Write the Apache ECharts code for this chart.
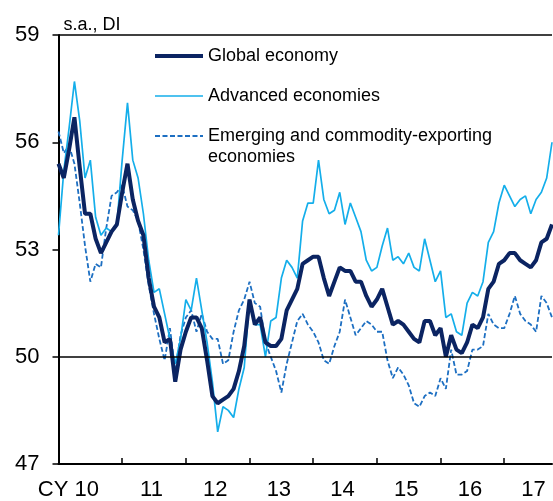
<!DOCTYPE html>
<html>
<head>
<meta charset="utf-8">
<script src="https://cdn.jsdelivr.net/npm/echarts@6/dist/echarts.min.js"></script>
<style>
html, body { margin: 0; padding: 0; background: #fff; }
#main { width: 553px; height: 501px; }
</style>
</head>
<body>
<div id="main"></div>
<script>
// monthly categories, Jan 2010 .. Oct 2017
var months = [];
for (var y = 2010; y <= 2017; y++) {
    for (var m = 1; m <= 12; m++) {
        months.push(y + '-' + (m < 10 ? '0' + m : m));
    }
}
months = months.slice(0, 94);

var yearLabels = ['CY 10', '11', '12', '13', '14', '15', '16', '17'];

var globalEconomy = [
    55.4, 55.0, 55.8, 56.7, 55.3, 54.0, 54.0, 53.3, 52.9, 53.2, 53.5, 53.7,
    54.6, 55.4, 54.4, 53.8, 53.4, 52.2, 51.4, 51.1, 50.4, 50.5, 49.3, 50.2,
    50.7, 51.1, 51.1, 50.8, 49.9, 48.9, 48.7, 48.8, 48.9, 49.1, 49.6, 50.3,
    51.6, 50.9, 51.1, 50.4, 50.3, 50.3, 50.5, 51.3, 51.6, 51.9, 52.6, 52.7,
    52.8, 52.8, 52.2, 51.7, 52.1, 52.5, 52.4, 52.4, 52.1, 52.1, 51.7, 51.4,
    51.6, 51.9, 51.4, 50.9, 51.0, 50.9, 50.7, 50.5, 50.4, 51.0, 51.0, 50.6,
    50.8, 50.0, 50.6, 50.2, 50.1, 50.4, 50.9, 50.8, 51.1, 51.9, 52.1, 52.6,
    52.7, 52.9, 52.9, 52.7, 52.6, 52.5, 52.7, 53.2, 53.3, 53.7
];

var advancedEconomies = [
    53.4, 55.2, 56.4, 57.7, 56.6, 55.0, 55.5, 53.9, 53.4, 53.6, 53.5, 53.7,
    55.5, 57.1, 55.5, 55.0, 54.0, 52.7, 51.8, 51.9, 51.2, 50.5, 49.8, 50.5,
    51.6, 51.3, 52.2, 51.3, 50.4, 49.3, 47.9, 48.6, 48.5, 48.3, 49.1, 49.7,
    51.6, 50.9, 50.9, 50.0, 51.0, 51.1, 52.2, 52.7, 52.5, 52.2, 53.8, 54.3,
    54.3, 55.5, 54.4, 54.0, 54.1, 54.6, 53.7, 54.3, 53.9, 53.5, 52.7, 52.4,
    52.5, 53.1, 53.6, 52.7, 52.8, 52.6, 52.9, 52.5, 52.4, 53.3, 52.7, 52.1,
    52.4, 51.1, 51.2, 50.7, 50.6, 51.5, 51.8, 51.7, 52.1, 53.2, 53.5, 54.3,
    54.8, 54.5, 54.2, 54.4, 54.5, 54.0, 54.4, 54.6, 55.0, 56.0
];

var emergingEconomies = [
    56.3, 55.7, 55.9, 55.4, 54.3, 53.1, 52.1, 52.6, 52.5, 53.6, 54.5, 54.6,
    54.8, 54.2, 54.1, 53.8, 53.0, 52.0, 51.2, 50.5, 49.9, 50.8, 49.6, 50.6,
    51.1, 51.3, 50.7, 51.2, 50.7, 50.5, 50.5, 49.8, 49.9, 50.7, 51.3, 51.6,
    52.1, 51.5, 51.4, 50.4, 50.0, 49.6, 49.0, 49.8, 50.4, 51.0, 51.2, 50.9,
    50.7, 50.4, 49.9, 49.8, 50.3, 50.7, 51.6, 51.1, 50.6, 50.8, 51.0, 50.9,
    50.7, 50.7, 49.9, 49.4, 49.7, 49.5, 49.2, 48.7, 48.6, 48.9, 49.0, 48.9,
    49.4, 49.1, 50.2, 49.5, 49.5, 49.6, 50.2, 50.2, 50.3, 51.2, 50.9, 50.8,
    50.8, 51.2, 51.7, 51.2, 51.0, 50.9, 50.7, 51.7, 51.5, 51.1
];

var NAVY = '#0b2462';
var LIGHT = '#14aeea';
var MID = '#1d6fc2';
var FONT = '"Liberation Sans", Arial, sans-serif';

var myChart = echarts.init(document.getElementById('main'));
var option = {
    animation: false,
    backgroundColor: '#fff',
    grid: { left: 58.5, right: 1, top: 35, bottom: 37 },
    xAxis: {
        type: 'category',
        data: months,
        boundaryGap: false,
        axisLine: { lineStyle: { color: '#000', width: 2 } },
        axisTick: {
            inside: true,
            length: 6,
            interval: function (idx) { return idx % 12 === 0; },
            lineStyle: { color: '#000', width: 1.5 }
        },
        axisLabel: {
            interval: function (idx) { return idx % 12 === 6; },
            formatter: function (val, idx) {
                var k = Math.floor(idx / 12);
                return (k === 0 ? '{f|' : '{y|') + yearLabels[k] + '}';
            },
            rich: {
                f: { fontSize: 22, fontFamily: FONT, color: '#000', padding: [0, 44, 0, 0] },
                y: { fontSize: 22, fontFamily: FONT, color: '#000', padding: [0, 5, 0, 0] }
            },
            fontSize: 22,
            fontFamily: FONT,
            color: '#000',
            margin: 15
        },
        splitLine: { show: false }
    },
    yAxis: {
        type: 'value',
        min: 47,
        max: 59,
        interval: 3,
        name: 's.a., DI',
        nameLocation: 'end',
        nameGap: 10,
        nameTextStyle: {
            align: 'left',
            verticalAlign: 'middle',
            fontSize: 18,
            fontFamily: FONT,
            color: '#000',
            padding: [0, 0, 0, 5]
        },
        axisLine: { show: true, lineStyle: { color: '#000', width: 2 } },
        axisTick: { show: true, inside: false, length: 6, lineStyle: { color: '#000', width: 1.5 } },
        axisLabel: { fontSize: 22, fontFamily: FONT, color: '#000', margin: 19 },
        splitLine: { show: false }
    },
    series: [{
            name: 'Emerging and commodity-exporting economies',
            type: 'line',
            data: emergingEconomies,
            symbol: 'none',
            lineStyle: { color: MID, width: 1.8, type: [5, 2.5] },
            markLine: {
                silent: true,
                symbol: 'none',
                label: { show: false },
                lineStyle: { color: '#000', width: 1.6, type: 'solid' },
                data: [{ yAxis: 50 }, { yAxis: 59 }]
            }
        }, {
            name: 'Advanced economies',
            type: 'line',
            data: advancedEconomies,
            symbol: 'none',
            lineStyle: { color: LIGHT, width: 1.7 }
        }, {
            name: 'Global economy',
            type: 'line',
            data: globalEconomy,
            symbol: 'none',
            lineStyle: { color: NAVY, width: 4 }
        }],
    graphic: [
        { type: 'line', shape: { x1: 155, y1: 56, x2: 203, y2: 56 }, style: { stroke: NAVY, lineWidth: 4 } },
        { type: 'text', x: 208, y: 56, style: { text: 'Global economy', fontSize: 18, fontFamily: FONT, fill: '#000', verticalAlign: 'middle' } },
        { type: 'line', shape: { x1: 155, y1: 96, x2: 203, y2: 96 }, style: { stroke: LIGHT, lineWidth: 1.7 } },
        { type: 'text', x: 208, y: 96, style: { text: 'Advanced economies', fontSize: 18, fontFamily: FONT, fill: '#000', verticalAlign: 'middle' } },
        { type: 'line', shape: { x1: 155, y1: 136, x2: 203, y2: 136 }, style: { stroke: MID, lineWidth: 1.8, lineDash: [5, 2.5] } },
        { type: 'text', x: 208, y: 136, style: { text: 'Emerging and commodity-exporting', fontSize: 18, fontFamily: FONT, fill: '#000', verticalAlign: 'middle' } },
        { type: 'text', x: 208, y: 157, style: { text: 'economies', fontSize: 18, fontFamily: FONT, fill: '#000', verticalAlign: 'middle' } }
    ]
};
myChart.setOption(option);
</script>
</body>
</html>
